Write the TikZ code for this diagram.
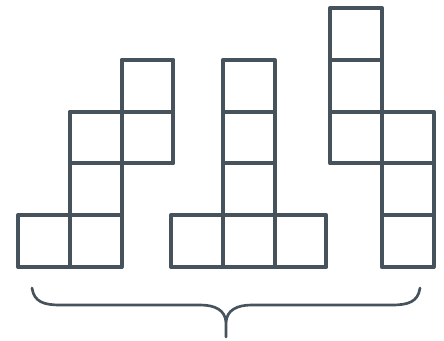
\documentclass[tikz,border=0pt]{standalone}
\usetikzlibrary{calc}
\definecolor{slate}{HTML}{46525C}

\begin{document}
\begin{tikzpicture}[x=0.75pt,y=-0.75pt,
      sq/.style={draw=slate, line width=3pt, line join=round},
      brace/.style={draw=slate, line width=2pt, line cap=round}]
    \useasboundingbox (0,0) rectangle (444,341);
    \def\cs{51.8}
    % left piece
    \foreach \c/\r in {0/4,1/4,1/3,1/2,2/2,2/1}
      \draw[sq] ({18+\c*\cs},{8+\r*\cs}) rectangle ++(\cs,\cs);
    % middle piece
    \foreach \c/\r in {0/4,1/4,2/4,1/3,1/2,1/1}
      \draw[sq] ({171+\c*\cs},{8+\r*\cs}) rectangle ++(\cs,\cs);
    % right piece
    \foreach \c/\r in {0/0,0/1,0/2,1/2,1/3,1/4}
      \draw[sq] ({330+\c*\cs},{8+\r*\cs}) rectangle ++(\cs,\cs);
    % brace
    \coordinate (tip) at (226,322);
    \draw[brace] (32,288) .. controls (34,302) and (44,305) .. (60,305) -- (200,305)
      .. controls (215,305) and (225,310) .. (tip) -- (226,337);
    \draw[brace] (420,288) .. controls (418,302) and (408,305) .. (392,305) -- (252,305)
      .. controls (237,305) and (227,310) .. (tip);
  \end{tikzpicture}
\end{document}
